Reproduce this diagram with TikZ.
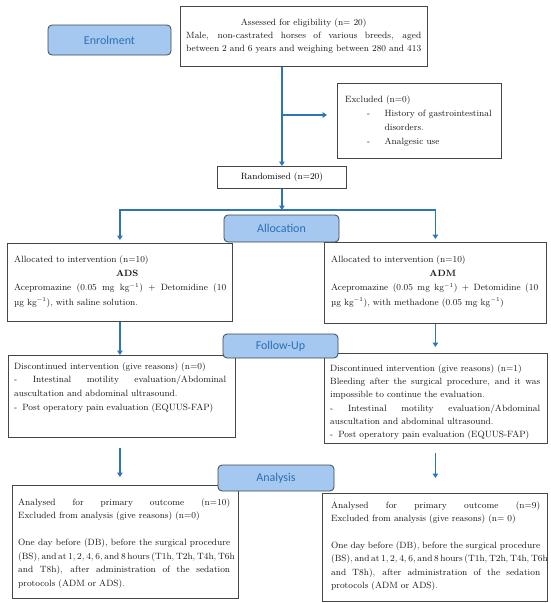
\documentclass[tikz,border=0pt]{standalone}
\usepackage{fontspec}
\newfontfamily\lblfnt{Carlito}
\usetikzlibrary{arrows.meta,calc}
\definecolor{flowblue}{RGB}{46,117,182}
\definecolor{lblfill}{RGB}{164,200,240}
\definecolor{lbledge}{RGB}{60,70,85}
\definecolor{lbltext}{RGB}{46,110,180}
\definecolor{boxedge}{RGB}{70,70,70}
\newcommand{\jline}[1]{\makebox[\linewidth][s]{\spaceskip=0.25em plus 1fil minus 0.07em\relax #1}}
\newcommand{\bodyfnt}[1]{\fontsize{9.1}{#1}\selectfont}
\newcommand{\kgm}{kg$^{-1}$}
\begin{document}
\begin{tikzpicture}[x=1pt,y=-1pt,
  box/.style={draw=boxedge, line width=0.8pt, fill=white, inner sep=0pt, anchor=north west},
  txt/.style={inner sep=0pt, anchor=north west, align=left, text=black!90},
  lbl/.style={draw=lbledge, fill=lblfill, rounded corners=4pt, line width=0.8pt, text=lbltext, inner sep=0pt, font=\lblfnt\fontsize{12}{14}\selectfont},
  flow/.style={draw=flowblue, line width=1.6pt, -{Triangle[width=5.5pt,length=4.5pt]}},
]
\useasboundingbox (0,0) rectangle (550,603);

% ---- boxes ----
\node[box, minimum width=247pt, minimum height=60pt] (assess) at (180,6) {};
\node[txt, text width=235pt, font=\bodyfnt{13.4}] (assesst) at (186,15.6)
 {\strut\makebox[\linewidth][c]{Assessed for eligibility (n= 20)}\\
  \jline{Male, non-castrated horses of various breeds, aged}\\
  \jline{between 2 and 6 years and weighing between 280 and 413}};

\node[box, minimum width=164pt, minimum height=75pt] (excl) at (337,83) {};
\node[txt, text width=152pt, font=\bodyfnt{14}] (exclt) at (345,92.2)
 {\strut Excluded (n=0)\\
  \hspace*{22pt}\makebox[17.5pt][l]{-}\makebox[107pt][s]{\spaceskip=0.25em plus 1fil\relax History of gastrointestinal}\\
  \hspace*{39.5pt}disorders.\\
  \hspace*{22pt}\makebox[17.5pt][l]{-}Analgesic use};

\node[box, minimum width=129pt, minimum height=22pt, font=\bodyfnt{13.6}] (rand) at (217,166) {Randomised (n=20)};

\node[box, minimum width=225pt, minimum height=78pt] (alloL) at (7,243) {};
\node[txt, text width=212pt, font=\bodyfnt{14.4}] (alloLt) at (14,251.9)
 {\strut Allocated to intervention (n=10)\\
  \makebox[\linewidth][c]{\hspace*{14pt}\textbf{ADS}}\\
  \jline{Acepromazine (0.05 mg \kgm) + Detomidine (10}\\
  µg \kgm), with saline solution.};

\node[box, minimum width=222pt, minimum height=81pt] (alloR) at (324,242) {};
\node[txt, text width=207pt, font=\bodyfnt{14.4}] (alloRt) at (331,251.9)
 {\strut Allocated to intervention (n=10)\\
  \makebox[\linewidth][c]{\hspace*{16pt}\textbf{ADM}}\\
  \jline{Acepromazine (0.05 mg \kgm) + Detomidine (10}\\
  µg \kgm), with methadone (0.05 mg \kgm)};

\node[box, minimum width=227pt, minimum height=82pt] (fuL) at (8,355) {};
\node[txt, text width=212pt, font=\bodyfnt{13.8}] (fuLt) at (14,359.3)
 {\strut Discontinued intervention (give reasons) (n=0)\\
  \jline{- Intestinal motility evaluation/Abdominal}\\
  auscultation and abdominal ultrasound.\\
  -\hspace{5pt}Post operatory pain evaluation (EQUUS-FAP)};

\node[box, minimum width=223pt, minimum height=90pt] (fuR) at (324,353) {};
\node[txt, text width=210pt, font=\bodyfnt{13.3}] (fuRt) at (330,361.7)
 {\strut Discontinued intervention (give reasons) (n=1)\\
  \jline{Bleeding after the surgical procedure, and it was}\\
  impossible to continue the evaluation.\\
  \jline{- Intestinal motility evaluation/Abdominal}\\
  auscultation and abdominal ultrasound.\\
  -\hspace{5pt}Post operatory pain evaluation (EQUUS-FAP)};

\node[box, minimum width=226pt, minimum height=113pt] (anL) at (12,485) {};
\node[txt, text width=212pt, font=\bodyfnt{13.5}] (anLt) at (18,495.5)
 {\strut\jline{Analysed for primary outcome (n=10)}\\
  Excluded from analysis (give reasons) (n=0)\\[13.5pt]
  \jline{One day before (DB), before the surgical procedure}\\
  \jline{(BS), and at 1, 2, 4, 6, and 8 hours (T1h, T2h, T4h, T6h}\\
  \jline{and T8h), after administration of the sedation}\\
  protocols (ADM or ADS).};

\node[box, minimum width=225pt, minimum height=108pt] (anR) at (322,493) {};
\node[txt, text width=209pt, font=\bodyfnt{13.4}] (anRt) at (331,498.6)
 {\strut\jline{Analysed for primary outcome (n=9)}\\
  Excluded from analysis (give reasons) (n= 0)\\[13.4pt]
  \jline{One day before (DB), before the surgical procedure}\\
  \jline{(BS), and at 1, 2, 4, 6, and 8 hours (T1h, T2h, T4h, T6h}\\
  \jline{and T8h), after administration of the sedation}\\
  protocols (ADM or ADS).};

% ---- connectors ----
\coordinate (split) at (rand.south |- 0,210);
\coordinate (brs) at (rand.north |- 0,115);
\coordinate (bre) at (327,115);
\draw[flow] (rand.north |- assess.south) -- (rand.north);
\draw[flow] (brs) -- (bre);
\draw[flow] (rand.south) -- (split);
\draw[flow, shorten >=3pt] (split) -| (alloL.north);
\draw[flow, shorten >=3pt] (split) -| (alloR.north);
\draw[flow] (alloL.south) -- (alloL.south |- fuL.north);
\draw[flow, shorten >=6pt] (alloR.south) -- (alloR.south |- fuR.north);
\draw[flow, shorten <=10pt, shorten >=8pt] (fuL.south -| alloL.south) -- (anL.north -| alloL.south);
\draw[flow, shorten <=9pt, shorten >=15pt] (fuR.south -| alloR.south) -- (anR.north -| alloR.south);

% ---- stage labels ----
\node[lbl, minimum width=123pt, minimum height=30pt] (enrol) at (109.5,40) {Enrolment};
\node[lbl, minimum width=115pt, minimum height=27pt] (alloc) at (281.5,228.5) {Allocation};
\node[lbl, minimum width=115pt, minimum height=24pt] (follow) at (280.5,346) {Follow-Up};
\node[lbl, minimum width=116pt, minimum height=26pt] (analysis) at (276,478) {Analysis};
\end{tikzpicture}
\end{document}
